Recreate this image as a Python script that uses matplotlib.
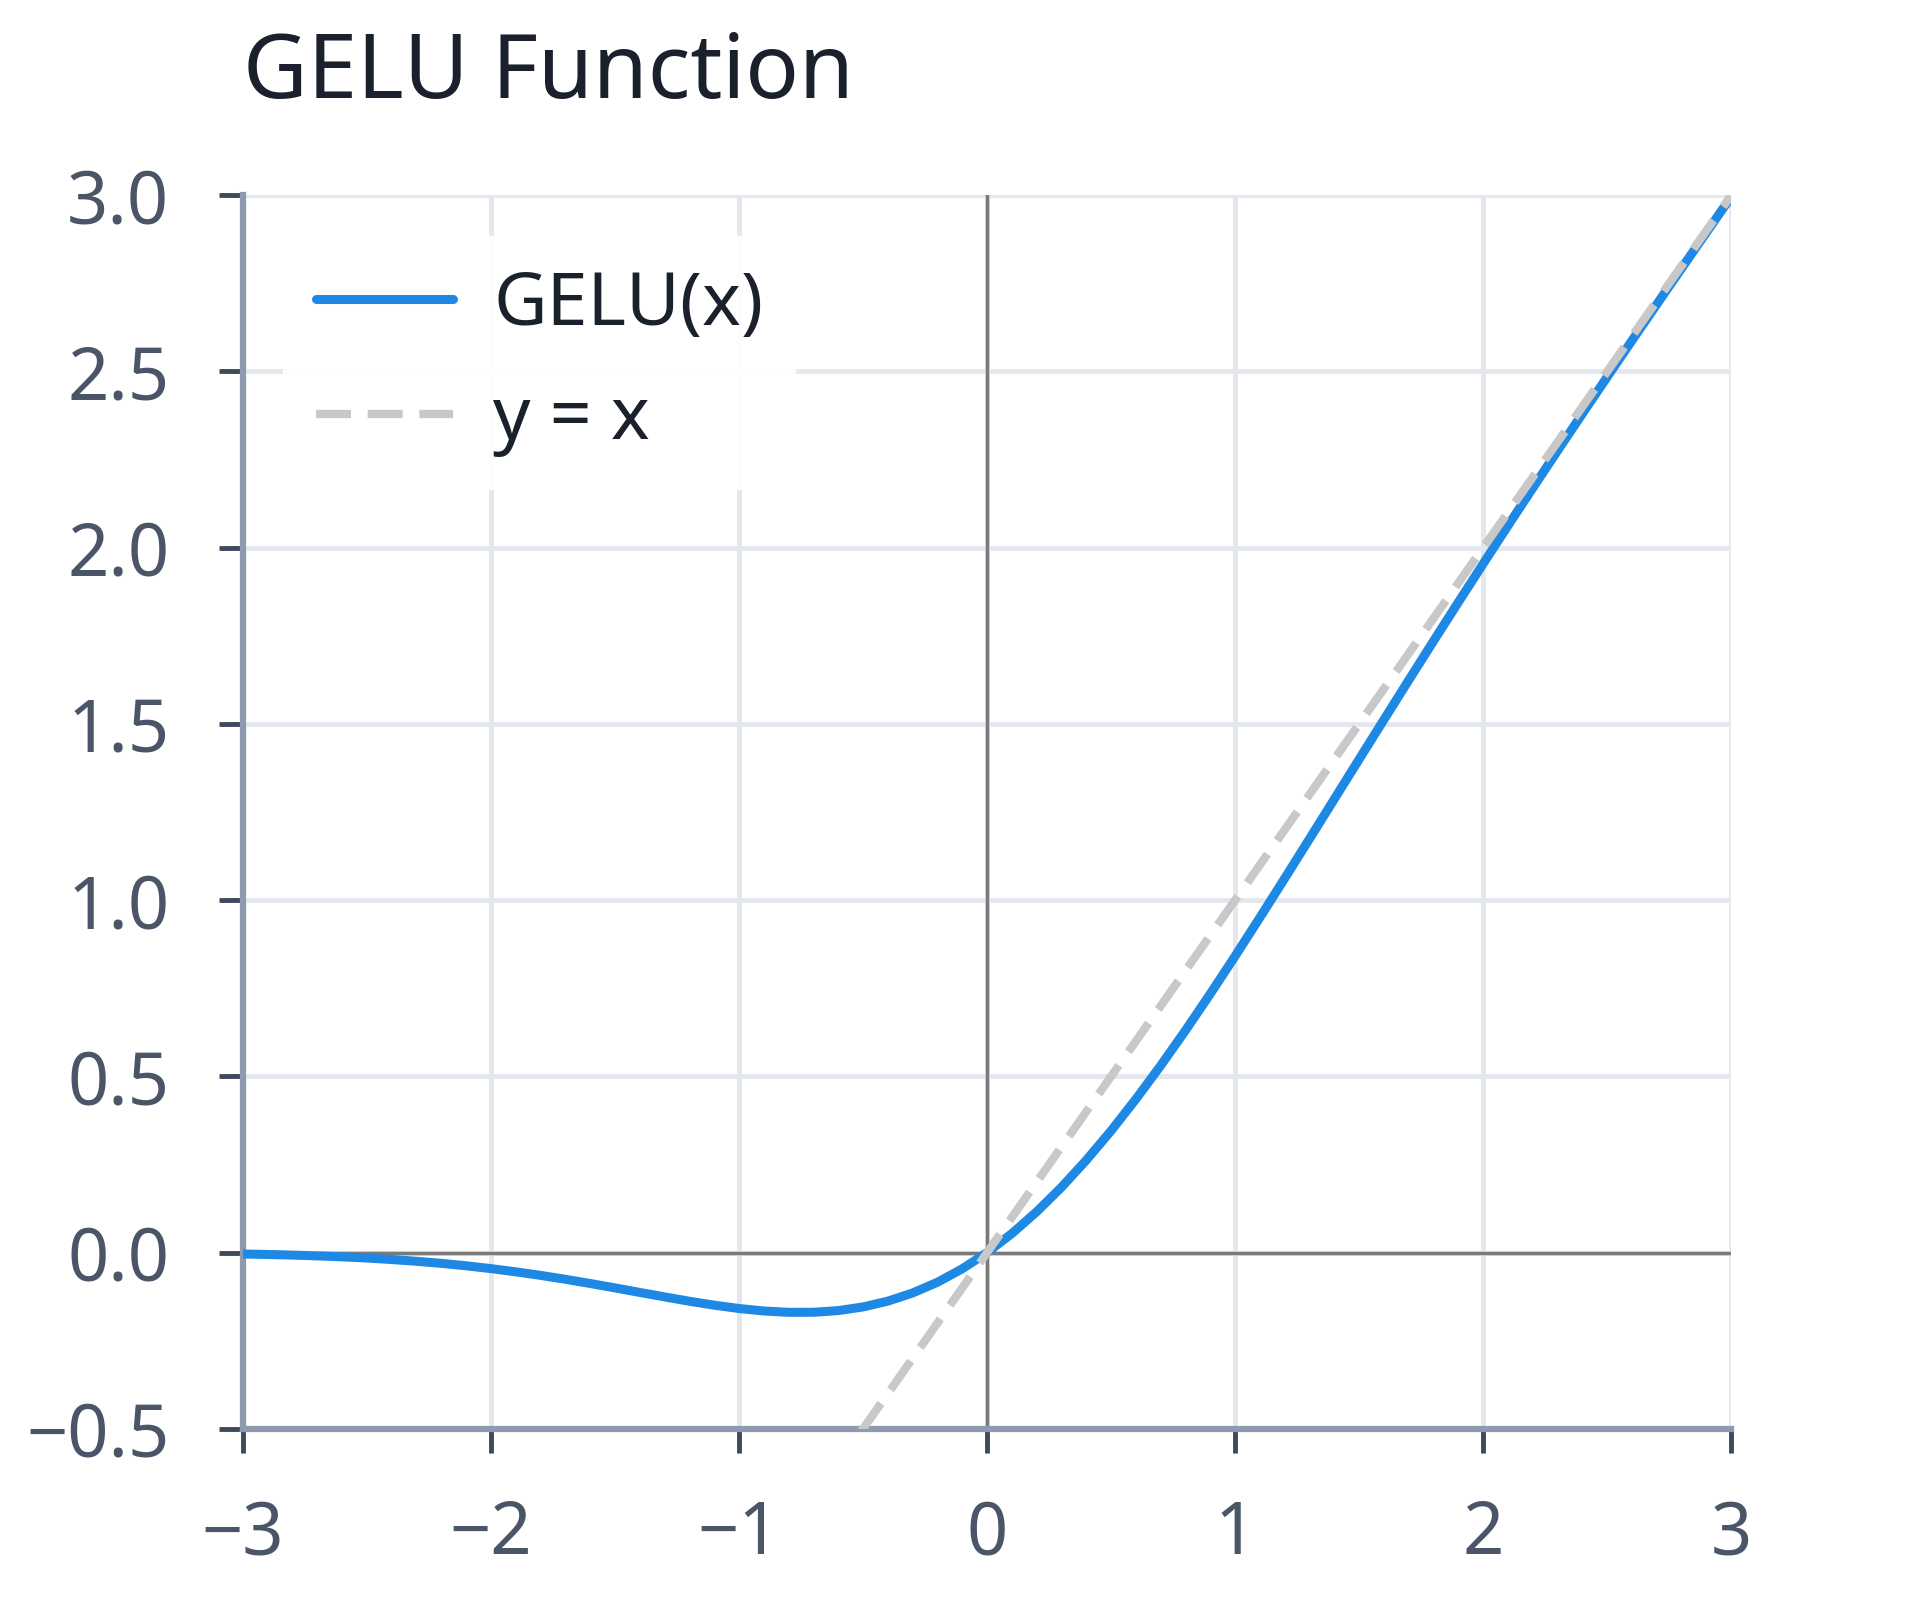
import matplotlib
matplotlib.use("Agg")
import numpy as np
from matplotlib import pyplot as plt

# GELU の値 (x = -3 .. 3, 0.1 刻み)
x_vals = [-3.0, -2.9, -2.8, -2.7, -2.6, -2.5, -2.4, -2.3, -2.2, -2.1,
          -2.0, -1.9, -1.8, -1.7, -1.6, -1.5, -1.4, -1.3, -1.2, -1.1,
          -1.0, -0.9, -0.8, -0.7, -0.6, -0.5, -0.4, -0.3, -0.2, -0.1,
          0.0, 0.1, 0.2, 0.3, 0.4, 0.5, 0.6, 0.7, 0.8, 0.9,
          1.0, 1.1, 1.2, 1.3, 1.4, 1.5, 1.6, 1.7, 1.8, 1.9,
          2.0, 2.1, 2.2, 2.3, 2.4, 2.5, 2.6, 2.7, 2.8, 2.9, 3.0]
gelu_vals = [-0.0041, -0.0054, -0.0072, -0.0094, -0.0121, -0.0155, -0.0197, -0.0247, -0.0306, -0.0375,
             -0.0455, -0.0546, -0.0647, -0.0758, -0.0877, -0.1002, -0.1131, -0.1258, -0.1381, -0.1492,
             -0.1587, -0.1657, -0.1695, -0.1694, -0.1646, -0.1543, -0.1378, -0.1146, -0.0842, -0.0460,
             0.0, 0.0540, 0.1159, 0.1854, 0.2622, 0.3457, 0.4355, 0.5306, 0.6305, 0.7343,
             0.8413, 0.9508, 1.0619, 1.1742, 1.2869, 1.3998, 1.5123, 1.6242, 1.7353, 1.8454,
             1.9545, 2.0625, 2.1694, 2.2753, 2.3803, 2.4845, 2.5879, 2.6906, 2.7928, 2.8946, 2.9960]

# y = x の参照線
ref_x = [-3, 3]
ref_y = [-3, 3]

x_ticks = [-3, -2, -1, 0, 1, 2, 3]
y_ticks = [-0.5, 0.0, 0.5, 1.0, 1.5, 2.0, 2.5, 3.0]

plt.rcParams["font.family"] = ["Noto Sans", "DejaVu Sans"]

fig = plt.figure(figsize=(19.2, 16), dpi=100)
ax = fig.add_axes([0.1265, 0.107, 0.7752, 0.771])

ax.axhline(0, color="#7a7a7a", lw=2.5, zorder=1.5)
ax.axvline(0, color="#7a7a7a", lw=2.5, zorder=1.5)
ax.plot(x_vals, gelu_vals, "-", c="#1e88e5", lw=6.5, label="GELU(x)", zorder=3,
        solid_capstyle="round")
ax.plot(ref_x, ref_y, c="#c8c8c8", lw=6, ls=(0, (4.2, 2.0)), label="y = x", zorder=3.5)

ax.set_xlim(-3, 3)
ax.set_ylim(-0.5, 3.0)
ax.set_xticks(x_ticks)
ax.set_yticks(y_ticks)
ax.set_yticklabels([f"{v:.1f}".replace("-", "\u2212") for v in y_ticks])

ax.grid(color="#e4e8ee", lw=3.5, zorder=0)
ax.set_axisbelow(True)
for side in ["top", "right"]:
    ax.spines[side].set_visible(False)
for side in ["left", "bottom"]:
    ax.spines[side].set_color("#8e9ab0")
    ax.spines[side].set_linewidth(4.5)

ax.tick_params(axis="both", direction="out", length=17, width=3.5, color="#3d4a5c",
               labelsize=52, labelcolor="#4a5568")
ax.tick_params(axis="y", pad=36)
ax.tick_params(axis="x", pad=33)

ax.set_title("GELU Function", loc="left", fontsize=64, color="#1a202c", pad=70)

leg = ax.legend(loc="upper left", fontsize=53, frameon=True, handlelength=1.85,
                handletextpad=0.55, labelspacing=0.55, borderaxespad=0.55, borderpad=0.45)
leg.get_frame().set_facecolor("white")
leg.get_frame().set_edgecolor("none")
leg.get_frame().set_alpha(0.95)
for t in leg.get_texts():
    t.set_color("#1a202c")

fig.savefig("out.png", dpi=100)
